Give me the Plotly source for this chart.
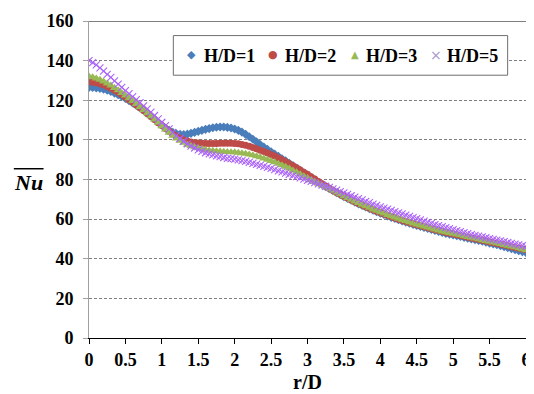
import plotly.graph_objects as go

r_over_D = [round(i * 0.05, 2) for i in range(121)]

nu_hd1 = [126.5, 126.4, 126.2, 126.0, 125.6, 125.1, 124.4, 123.6, 122.8, 121.9,
          120.9, 119.8, 118.6, 117.4, 116.1, 114.8, 113.4, 111.9, 110.4, 108.9,
          107.4, 106.0, 104.8, 103.8, 103.1, 102.8, 102.7, 102.9, 103.3, 103.8,
          104.3, 104.8, 105.3, 105.7, 106.1, 106.4, 106.5, 106.5, 106.3, 106.0,
          105.5, 104.8, 103.9, 102.8, 101.6, 100.3, 99.0, 97.7, 96.4, 95.2,
          94.0, 92.8, 91.7, 90.5, 89.4, 88.2, 87.0, 85.8, 84.6, 83.4,
          82.2, 81.0, 79.8, 78.6, 77.5, 76.4, 75.3, 74.3, 73.3, 72.3,
          71.3, 70.4, 69.5, 68.6, 67.7, 66.9, 66.1, 65.3, 64.5, 63.7,
          63.0, 62.3, 61.6, 60.9, 60.3, 59.7, 59.1, 58.5, 57.9, 57.3,
          56.8, 56.3, 55.8, 55.3, 54.8, 54.3, 53.8, 53.3, 52.8, 52.4,
          52.0, 51.6, 51.2, 50.8, 50.4, 50.0, 49.6, 49.2, 48.8, 48.4,
          47.9, 47.5, 47.1, 46.6, 46.1, 45.6, 45.1, 44.6, 44.1, 43.6, 43.1]

nu_hd2 = [129.3, 129.1, 128.8, 128.3, 127.7, 127.0, 126.1, 125.1, 124.0, 122.8,
          121.6, 120.3, 119.0, 117.6, 116.2, 114.8, 113.3, 111.8, 110.3, 108.7,
          107.2, 105.7, 104.3, 103.0, 101.8, 100.8, 100.0, 99.4, 98.9, 98.6,
          98.4, 98.3, 98.2, 98.2, 98.2, 98.2, 98.3, 98.3, 98.3, 98.3,
          98.2, 98.0, 97.7, 97.3, 96.8, 96.2, 95.5, 94.8, 94.1, 93.4,
          92.6, 91.8, 90.9, 90.0, 89.0, 88.0, 87.0, 85.9, 84.8, 83.7,
          82.6, 81.4, 80.2, 79.0, 77.8, 76.7, 75.6, 74.5, 73.5, 72.5,
          71.5, 70.6, 69.7, 68.8, 67.9, 67.1, 66.3, 65.5, 64.7, 64.0,
          63.3, 62.6, 61.9, 61.2, 60.6, 60.0, 59.4, 58.8, 58.2, 57.7,
          57.2, 56.7, 56.2, 55.7, 55.2, 54.7, 54.2, 53.7, 53.3, 52.9,
          52.5, 52.1, 51.7, 51.3, 50.9, 50.5, 50.1, 49.7, 49.3, 48.9,
          48.5, 48.1, 47.7, 47.3, 46.9, 46.5, 46.1, 45.7, 45.3, 44.9, 44.5]

nu_hd3 = [132.0, 131.6, 131.0, 130.3, 129.5, 128.5, 127.4, 126.2, 125.0, 123.7,
          122.4, 121.0, 119.6, 118.1, 116.6, 115.1, 113.5, 111.9, 110.3, 108.6,
          106.9, 105.2, 103.6, 102.1, 100.7, 99.5, 98.5, 97.6, 96.9, 96.3,
          95.8, 95.4, 95.0, 94.7, 94.5, 94.3, 94.1, 94.0, 93.9, 93.8,
          93.7, 93.5, 93.3, 93.0, 92.6, 92.2, 91.7, 91.2, 90.6, 90.0,
          89.4, 88.7, 88.0, 87.2, 86.4, 85.5, 84.6, 83.7, 82.7, 81.7,
          80.7, 79.7, 78.8, 77.9, 77.0, 76.1, 75.2, 74.3, 73.4, 72.5,
          71.6, 70.7, 69.8, 68.9, 68.1, 67.3, 66.5, 65.7, 64.9, 64.2,
          63.5, 62.8, 62.1, 61.4, 60.8, 60.2, 59.6, 59.0, 58.4, 57.8,
          57.3, 56.8, 56.3, 55.8, 55.3, 54.8, 54.3, 53.8, 53.4, 53.0,
          52.6, 52.2, 51.8, 51.4, 51.0, 50.6, 50.2, 49.8, 49.4, 49.0,
          48.6, 48.2, 47.8, 47.4, 47.0, 46.6, 46.2, 45.8, 45.3, 44.8, 44.3]

nu_hd5 = [140.0, 139.0, 137.8, 136.3, 134.7, 133.1, 131.5, 129.8, 128.1, 126.5,
          124.9, 123.3, 121.8, 120.3, 118.8, 117.2, 115.6, 114.0, 112.3, 110.6,
          108.9, 107.2, 105.5, 103.8, 102.2, 100.7, 99.3, 98.0, 96.9, 95.9,
          95.0, 94.2, 93.5, 92.9, 92.4, 91.9, 91.5, 91.1, 90.7, 90.5,
          90.3, 89.9, 89.5, 89.1, 88.6, 88.1, 87.6, 87.1, 86.6, 86.1,
          85.6, 85.0, 84.4, 83.8, 83.2, 82.6, 82.0, 81.4, 80.8, 80.2,
          79.6, 79.0, 78.4, 77.8, 77.2, 76.6, 76.0, 75.3, 74.6, 73.9,
          73.2, 72.5, 71.8, 71.1, 70.4, 69.7, 69.0, 68.3, 67.6, 66.9,
          66.2, 65.6, 65.0, 64.4, 63.8, 63.2, 62.6, 62.0, 61.4, 60.8,
          60.2, 59.6, 59.0, 58.4, 57.8, 57.2, 56.7, 56.2, 55.7, 55.2,
          54.7, 54.2, 53.7, 53.2, 52.7, 52.2, 51.8, 51.4, 51.0, 50.6,
          50.2, 49.8, 49.4, 49.0, 48.6, 48.2, 47.8, 47.4, 47.0, 46.6, 46.2]

series_names = ["H/D=1", "H/D=2", "H/D=3", "H/D=5"]
series_colors = ["#4A7EBB", "#BE4B48", "#98B954", "#A797CC"]
legend_glyphs = ["\u25C6", "\u25CF", "\u25B2", "\u00D7"]
x_ticks = [0, 0.5, 1, 1.5, 2, 2.5, 3, 3.5, 4, 4.5, 5, 5.5, 6]
x_tick_text = ["0", "0.5", "1", "1.5", "2", "2.5", "3", "3.5", "4", "4.5", "5", "5.5", "6"]
y_ticks = [0, 20, 40, 60, 80, 100, 120, 140, 160]

FONT = "Liberation Serif"

fig = go.Figure()
fig.add_trace(go.Scatter(x=r_over_D, y=nu_hd1, mode="markers", name=series_names[0],
                         marker=dict(symbol="diamond", size=7, color=series_colors[0])))
fig.add_trace(go.Scatter(x=r_over_D, y=nu_hd2, mode="markers", name=series_names[1],
                         marker=dict(symbol="circle", size=7, color=series_colors[1])))
fig.add_trace(go.Scatter(x=r_over_D, y=nu_hd3, mode="markers", name=series_names[2],
                         marker=dict(symbol="triangle-up", size=8, color=series_colors[2])))
fig.add_trace(go.Scatter(x=r_over_D, y=nu_hd5, mode="markers", name=series_names[3],
                         marker=dict(symbol="x-thin-open", size=7,
                                     line=dict(color=series_colors[3], width=1.1))))

fig.update_layout(
    width=526, height=386,
    margin=dict(l=81, r=3, t=10, b=56),
    paper_bgcolor="white", plot_bgcolor="white",
    font=dict(family=FONT, color="black"),
    showlegend=False,
    xaxis=dict(range=[0, 6], tickvals=x_ticks, ticktext=[f"<b>{t}</b>" for t in x_tick_text],
               showgrid=False, zeroline=False, showline=True, linecolor="black", linewidth=1,
               ticks="outside", ticklen=5, tickcolor="black", ticklabeloverflow="allow",
               tickfont=dict(family=FONT, size=18, color="black")),
    yaxis=dict(range=[0, 160], tickvals=y_ticks, ticktext=[f"<b>{t}</b>" for t in y_ticks],
               showgrid=True, gridcolor="#7f7f7f", griddash="3px,2px", gridwidth=1,
               zeroline=False, showline=True, linecolor="#a0a0a0", linewidth=1, mirror=True,
               ticks="outside", ticklen=5, tickcolor="#a0a0a0", ticklabelstandoff=6,
               tickfont=dict(family=FONT, size=18, color="black")),
)

# top border line of the plot area
fig.add_shape(type="line", xref="paper", yref="y", x0=0, x1=1, y0=160, y1=160,
              line=dict(color="black", width=1))

# legend box
fig.add_shape(type="rect", xref="paper", yref="paper", x0=0.193, x1=0.958, y0=0.829, y1=0.954,
              line=dict(color="#6e6e6e", width=1), fillcolor="white", layer="above")
sym_x = [0.234, 0.422, 0.608, 0.794]
txt_x = [0.259, 0.444, 0.630, 0.815]
sym_size = [11, 11, 10, 14]
for name, color, glyph, sx, tx, ss in zip(series_names, series_colors, legend_glyphs, sym_x, txt_x, sym_size):
    fig.add_annotation(text=glyph, xref="paper", yref="paper", x=sx, y=0.893,
                       xanchor="center", yanchor="middle", showarrow=False,
                       font=dict(family="DejaVu Sans", size=ss, color=color))
    fig.add_annotation(text=f"<b>{name}</b>", xref="paper", yref="paper", x=tx, y=0.891,
                       xanchor="left", yanchor="middle", showarrow=False,
                       font=dict(family=FONT, size=18, color="black"))

# x-axis title
fig.add_annotation(text="<b>r/D</b>", xref="paper", yref="paper", x=0.501, y=-0.14,
                   xanchor="center", yanchor="middle", showarrow=False,
                   font=dict(family=FONT, size=20, color="black"))

# y-axis title: Nu with overbar
fig.add_annotation(text="<b><i>Nu</i></b>", xref="paper", yref="paper",
                   x=-0.138, y=0.49, xanchor="center", yanchor="middle", showarrow=False,
                   font=dict(family=FONT, size=22, color="black"))
fig.add_shape(type="line", xref="paper", yref="paper", x0=-0.172, x1=-0.104, y0=0.534, y1=0.534,
              line=dict(color="black", width=1.5))

fig.write_html("out.html")
